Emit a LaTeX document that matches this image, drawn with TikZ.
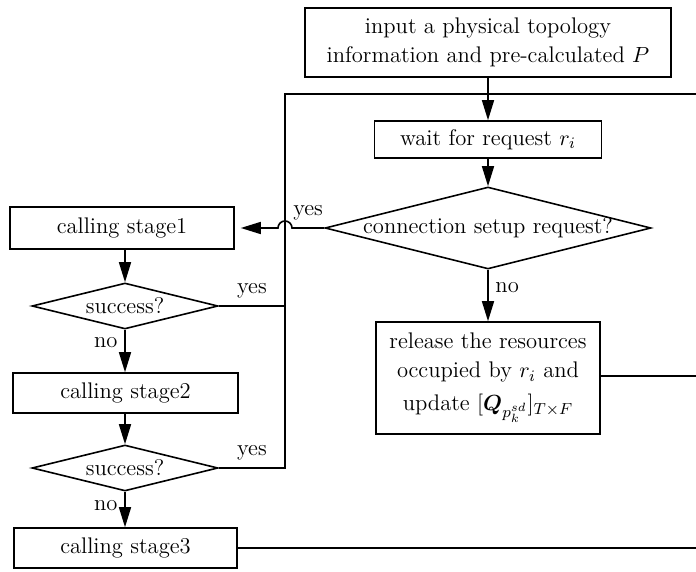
\documentclass[tikz,border=0pt]{standalone}
\usepackage{amsmath}
\usetikzlibrary{shapes.geometric,arrows.meta}
\tikzset{
  procbox/.style={draw, line width=0.8pt, align=center, inner sep=0pt},
  decision/.style={draw, diamond, line width=0.8pt, aspect=4, inner sep=0pt},
  flow/.style={line width=0.8pt},
  arr/.style={flow, -{Triangle[length=10pt,width=6pt]}},
}
\begin{document}
\begin{tikzpicture}[x=0.5pt,y=-0.5pt,font=\fontsize{11.3}{14.5}\selectfont]
  % Parameters
  \def\busx{285} % x of the vertical line on the left
  \def\edgex{696} % right edge, where the return lines leave
  \useasboundingbox (0,0) rectangle (696,572);

  % Right column
  \node[procbox, minimum width=183pt, minimum height=34.5pt] (input) at (488,42.5)
    {input a physical topology\\information and pre-calculated $P$};
  \node[procbox, minimum width=113.5pt, minimum height=18.5pt] (wait) at (488,139.5)
    {wait for request $r_i$};
  \node[decision, minimum width=163pt, minimum height=41pt, inner xsep=-4pt] (conn) at (488,228)
    {connection setup request?};
  \node[procbox, minimum width=112pt, minimum height=56pt] (release) at (488,378)
    {release the resources\\occupied by $r_i$ and\\[2pt]update $[\boldsymbol{Q}_{p_k^{sd}}]_{T\times F}$};

  % Left column
  \node[procbox, minimum width=112pt, minimum height=21pt] (stage1) at (122,228) {calling stage1};
  \node[decision, minimum width=93pt, minimum height=23pt] (succ1) at (125,306) {success?};
  \node[procbox, minimum width=112.5pt, minimum height=20pt] (stage2) at (125.5,393) {calling stage2};
  \node[decision, minimum width=93pt, minimum height=23pt] (succ2) at (125,468) {success?};
  \node[procbox, minimum width=111.5pt, minimum height=20pt] (stage3) at (125.5,548) {calling stage3};

  % Return points on the right edge
  \coordinate (rtop) at (\edgex,94);
  \coordinate (rmid) at (\edgex,376);
  \coordinate (rbot) at (\edgex,548);

  % Main flow
  \draw[arr] (input.south) -- (wait.north);
  \draw[arr] (wait.south) -- (conn.north);
  \draw[arr] (conn.south) -- node[right, pos=0.35] {no} (release.north);
  \draw[arr] (conn.west) -- node[above] {yes} (\busx+7,228)
    arc[start angle=0, end angle=180, radius=3.5pt] -- ([xshift=3pt]stage1.east);

  \draw[arr] (stage1.south -| succ1.north) -- (succ1.north);
  \draw[arr] (succ1.south) -- node[left, pos=0.3] {no} (stage2.north -| succ1.south);
  \draw[arr] (stage2.south -| succ2.north) -- (succ2.north);
  \draw[arr] (succ2.south) -- node[left, pos=0.4] {no} (stage3.north -| succ2.south);

  % Lines back to the waiting state
  \draw[flow] (succ1.east) -- node[above] {yes} (\busx,306);
  \draw[flow] (succ2.east) -- node[above] {yes} (\busx,468) -- (\busx,94) -- (rtop);
  \draw[flow] (release.east |- rmid) -- (rmid);
  \draw[flow] (stage3.east) -- (rbot);
\end{tikzpicture}
\end{document}
